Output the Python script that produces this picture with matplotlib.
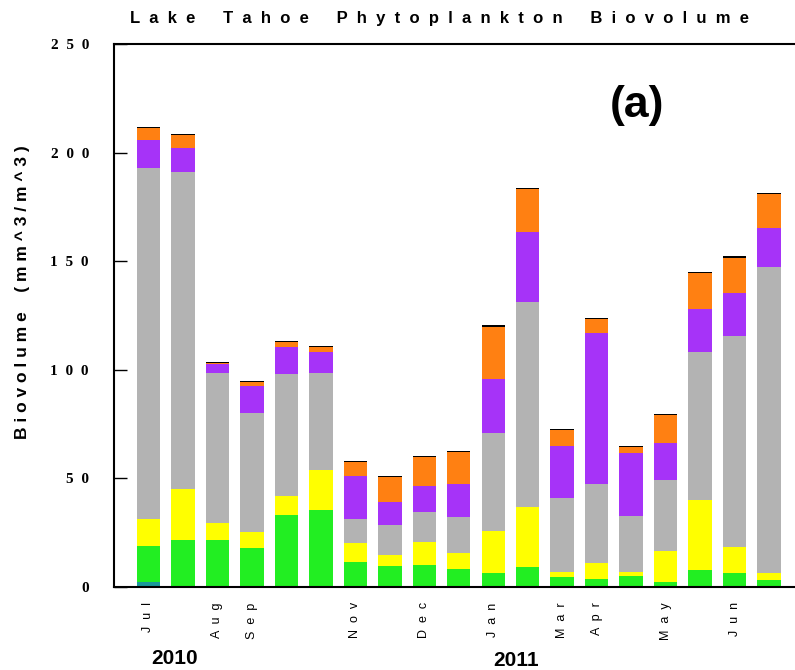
import matplotlib
matplotlib.use("Agg")
import matplotlib.pyplot as plt
import numpy as np

# biovolume per group, one value per sampling date (mm^3/m^3)
teal = [2.5, 0, 0, 0, 0, 0, 0, 0, 0, 0, 0, 0, 0, 0, 0, 0, 0, 0, 0]
green = [16.6, 21.7, 21.7, 17.8, 33.1, 35.4, 11.4, 9.7, 10.2, 8.2,
         6.4, 9.4, 4.5, 3.8, 5.1, 2.1, 7.6, 6.4, 3.3]
yellow = [12.1, 23.2, 7.6, 7.5, 8.8, 18.4, 9.0, 5.1, 10.7, 7.6,
          19.5, 27.6, 2.6, 7.2, 1.6, 14.5, 32.4, 12.2, 3.1]
gray = [161.9, 146.3, 69.2, 55.0, 56.0, 44.7, 10.8, 13.6, 13.8, 16.6,
        44.8, 94.3, 34.0, 36.4, 26.1, 32.6, 68.0, 96.9, 140.8]
purple = [12.7, 10.8, 4.3, 12.1, 12.5, 9.5, 19.9, 10.9, 11.9, 15.0,
          25.2, 32.2, 23.9, 69.5, 29.1, 17.1, 20.0, 19.7, 18.2]
orange = [5.6, 6.1, 0.4, 1.8, 2.5, 2.4, 6.4, 11.2, 13.3, 14.8,
          24.0, 19.6, 7.2, 6.4, 2.6, 12.9, 16.7, 16.5, 15.4]
black = [0.5] * 19

month_pos = [0, 2, 3, 6, 8, 10, 12, 13, 15, 17]
month_names = ["Jul", "Aug", "Sep", "Nov", "Dec", "Jan", "Mar", "Apr", "May", "Jun"]
y_ticks = [0, 50, 100, 150, 200, 250]


def spaced(s, gap=" ", word_gap="   "):
    return word_gap.join(gap.join(w) for w in s.split(" "))


series = [teal, green, yellow, gray, purple, orange, black]
colors = ["#1a9a9a", "#22ee22", "#ffff00", "#b3b3b3", "#a633f8", "#ff8012", "#000000"]

fig = plt.figure(figsize=(7.95, 6.7), dpi=100)
ax = fig.add_axes([114 / 795, 1 - 587 / 670, (803.5 - 114) / 795, (587 - 44) / 670])

x = np.arange(len(green))
bottom = np.zeros(len(green))
for vals, c in zip(series, colors):
    ax.bar(x, vals, bottom=bottom, width=0.68, color=c, edgecolor="none")
    bottom += np.array(vals)

ax.set_xlim(-1, 19)
ax.set_ylim(0, 250)

ax.set_yticks(y_ticks)
ax.set_yticklabels([spaced(str(v), "  ") for v in y_ticks],
                   fontfamily="Liberation Serif", fontweight="bold", fontsize=11)
ax.tick_params(axis="y", direction="in", length=9, width=1, pad=18)

ax.set_xticks(month_pos)
ax.set_xticklabels([spaced(m, "  ") for m in month_names], rotation=90,
                   fontfamily="Liberation Sans", fontsize=9)
ax.tick_params(axis="x", length=0, pad=11)

for s in ax.spines.values():
    s.set_linewidth(1.5)

fig.text(440 / 795, 1 - 18 / 670,
         spaced("Lake Tahoe Phytoplankton Biovolume", "  ", "      "),
         ha="center", va="center", fontfamily="Liberation Sans",
         fontweight="bold", fontsize=12)
fig.text(23 / 795, 1 - 292 / 670, spaced("Biovolume (mm^3/m^3)", " ", "    "),
         rotation=90, ha="center", va="center", fontfamily="Liberation Sans",
         fontweight="bold", fontsize=12.5)
fig.text(637 / 795, 1 - 106 / 670, "(a)", ha="center", va="center",
         fontfamily="Liberation Sans", fontweight="bold", fontsize=32)
fig.text(175 / 795, 1 - 658 / 670, "2010", ha="center", va="center",
         fontfamily="Liberation Sans", fontweight="bold", fontsize=15)
fig.text(516 / 795, 1 - 660 / 670, "2011", ha="center", va="center",
         fontfamily="Liberation Sans", fontweight="bold", fontsize=15)

fig.savefig("out.png", dpi=100)
